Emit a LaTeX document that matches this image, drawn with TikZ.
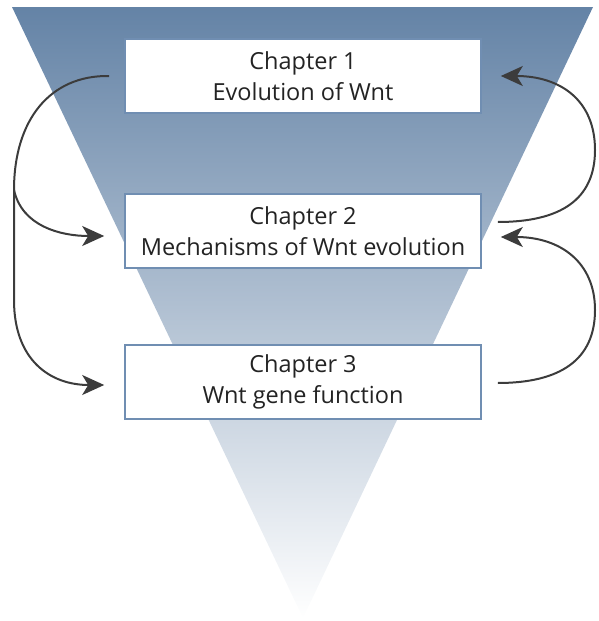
\documentclass[tikz,border=0pt]{standalone}
\usepackage{fontspec}
\setmainfont{Open Sans}
\usetikzlibrary{arrows.meta}
\definecolor{topblue}{RGB}{100,131,166}
\definecolor{boxline}{RGB}{112,142,178}
\definecolor{arrgray}{RGB}{60,60,60}
\definecolor{txt}{RGB}{35,35,35}
\tikzset{
  chbox/.style={draw=boxline, line width=1.6pt, fill=white, minimum width=356pt, minimum height=74pt, align=center, text=txt, font=\fontsize{23.5}{31}\selectfont, inner sep=0pt},
  arr/.style={draw=arrgray, line width=2pt, -{Stealth[length=22pt,width=20pt,inset=6pt]}},
  arrline/.style={draw=arrgray, line width=2pt}
}
\begin{document}
\begin{tikzpicture}[x=1pt,y=-1pt]
\useasboundingbox (0,0) rectangle (598,621);
\shade[top color=topblue, bottom color=white] (12,7) -- (593,7) -- (303,618) -- cycle;
\node[chbox] (b1) at (303,76) {Chapter 1\\Evolution of Wnt};
\node[chbox] (b2) at (303,231) {Chapter 2\\Mechanisms of Wnt evolution};
\node[chbox] (b3) at (303,382) {Chapter 3\\Wnt gene function};
% left connectors
\coordinate (ls) at ([xshift=-15pt]b1.west);
\coordinate (lsplit) at (14,190);
\coordinate (lt2) at ([xshift=-20pt,yshift=-5pt]b2.west);
\coordinate (lt3) at ([xshift=-20pt,yshift=-3pt]b3.west);
\draw[arrline] (ls) .. controls (50,75) and (14,120) .. (lsplit);
\draw[arr] (lsplit) -- (14,300) .. controls (14,360) and (50,385) .. (lt3);
\draw[arr] (lsplit) .. controls (22,226) and (60,236) .. (lt2);
% right connectors
\coordinate (rs2) at ([xshift=16pt,yshift=9pt]b2.east);
\coordinate (rt1) at ([xshift=19pt]b1.east);
\coordinate (rs3) at ([xshift=16pt,yshift=-1pt]b3.east);
\coordinate (rt2) at ([xshift=19pt,yshift=-6pt]b2.east);
\draw[arr] (rs2) .. controls (560,222) and (595,200) .. (595,150) .. controls (595,100) and (560,76) .. (rt1);
\draw[arr] (rs3) .. controls (560,383) and (595,360) .. (595,310) .. controls (595,262) and (560,237) .. (rt2);
\end{tikzpicture}
\end{document}
